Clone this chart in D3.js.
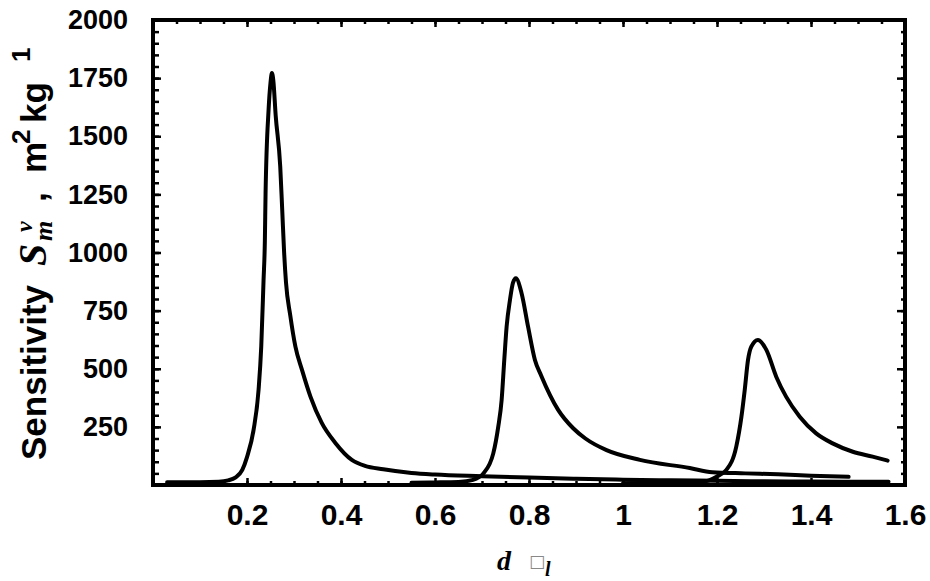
<!DOCTYPE html>
<html>
<head>
<meta charset="utf-8">
<script src="https://cdn.jsdelivr.net/npm/d3@7"></script>
<style>
  html, body { margin: 0; padding: 0; background: #fff; }
  svg { display: block; }
</style>
</head>
<body>
<svg id="chart" width="930" height="581"></svg>
<script>
// ---- data ----
const xTickLabels = [0.2, 0.4, 0.6, 0.8, 1, 1.2, 1.4, 1.6];
const yTickLabels = [250, 500, 750, 1000, 1250, 1500, 1750, 2000];

const peak1X = [0.03, 0.10, 0.14, 0.16, 0.175, 0.19, 0.20, 0.214, 0.2246, 0.2303, 0.2352, 0.238, 0.2395, 0.2459, 0.250, 0.253, 0.256, 0.261, 0.2707, 0.275, 0.279, 0.283, 0.292, 0.303, 0.317, 0.335, 0.359, 0.388, 0.423, 0.451, 0.49, 0.55, 0.60, 0.70, 0.80, 0.90, 1.00, 1.10, 1.20, 1.30, 1.40, 1.50, 1.565];
const peak1Y = [12, 12, 14, 20, 32, 65, 120, 237, 409, 595, 880, 1050, 1255, 1613, 1730, 1772, 1740, 1590, 1370, 1180, 1000, 870, 730, 595, 495, 380, 267, 181, 108, 82, 68, 52, 45, 38, 32, 27, 23, 20, 18, 16, 15, 14, 14];

const peak2X = [0.55, 0.60, 0.65, 0.681, 0.703, 0.724, 0.7346, 0.7418, 0.7474, 0.7524, 0.7595, 0.766, 0.772, 0.7843, 0.798, 0.8126, 0.826, 0.862, 0.894, 0.92, 0.965, 1.036, 1.142, 1.19, 1.26, 1.33, 1.40, 1.48];
const peak2Y = [10, 11, 13, 22, 50, 136, 251, 366, 538, 681, 796, 870, 889, 824, 681, 538, 470, 323, 244, 200, 150, 108, 73, 55, 50, 46, 40, 35];

const peak3X = [1.00, 1.08, 1.13, 1.17, 1.199, 1.22, 1.241, 1.252, 1.259, 1.266, 1.273, 1.287, 1.305, 1.326, 1.347, 1.376, 1.411, 1.446, 1.489, 1.531, 1.563];
const peak3Y = [8, 9, 10, 14, 36, 65, 165, 294, 409, 538, 595, 624, 581, 466, 380, 294, 222, 179, 143, 122, 105];

// ---- layout ----
const svg = d3.select("#chart");
const L = 153, R = 905, T = 20, B = 485;
const x = d3.scaleLinear().domain([0, 1.6]).range([L, R]);
const y = d3.scaleLinear().domain([0, 2000]).range([B, T]);

const sans = "'Liberation Sans', Arial, Helvetica, sans-serif";
const serif = "'Liberation Serif', 'Times New Roman', serif";

// ---- curves ----
const line = d3.line().x(d => x(d[0])).y(d => y(d[1])).curve(d3.curveMonotoneX);
const series = [
  d3.zip(peak1X, peak1Y),
  d3.zip(peak2X, peak2Y),
  d3.zip(peak3X, peak3Y)
];
svg.append("g").selectAll("path").data(series).join("path")
  .attr("d", line)
  .attr("fill", "none")
  .attr("stroke", "#000")
  .attr("stroke-width", 4)
  .attr("stroke-linejoin", "round")
  .attr("stroke-linecap", "round");

// ---- axes (ticks inward on all four sides) ----
const xMinor = d3.range(0, 1.6001, 0.05).map(v => +v.toFixed(2));
const yMinor = d3.range(0, 2000.1, 50);
const xMajor = xTickLabels;
const yMajor = yTickLabels;

function styleAxis(g) {
  g.select(".domain").remove();
  g.selectAll(".tick line").attr("stroke", "#000").attr("stroke-width", 2.5);
}
// bottom
svg.append("g").attr("transform", `translate(0,${B})`)
  .call(d3.axisBottom(x).tickValues(xMinor).tickSize(-4).tickFormat(""))
  .call(styleAxis);
svg.append("g").attr("transform", `translate(0,${B})`)
  .call(d3.axisBottom(x).tickValues(xMajor).tickSize(-7).tickPadding(19)
    .tickFormat(d => String(+d.toFixed(1))))
  .call(styleAxis)
  .call(g => g.selectAll("text")
    .attr("font-family", sans).attr("font-weight", "bold")
    .attr("font-size", 30).attr("fill", "#000"));
// top
svg.append("g").attr("transform", `translate(0,${T})`)
  .call(d3.axisTop(x).tickValues(xMinor).tickSize(-4).tickFormat(""))
  .call(styleAxis);
svg.append("g").attr("transform", `translate(0,${T})`)
  .call(d3.axisTop(x).tickValues(xMajor).tickSize(-7).tickFormat(""))
  .call(styleAxis);
// left
svg.append("g").attr("transform", `translate(${L},0)`)
  .call(d3.axisLeft(y).tickValues(yMinor).tickSize(-6).tickFormat(""))
  .call(styleAxis);
svg.append("g").attr("transform", `translate(${L},0)`)
  .call(d3.axisLeft(y).tickValues(yMajor).tickSize(-8).tickPadding(25).tickFormat(d3.format("d")))
  .call(styleAxis)
  .call(g => g.selectAll("text")
    .attr("font-family", sans).attr("font-weight", "bold")
    .attr("font-size", 27).attr("fill", "#000"));
// right
svg.append("g").attr("transform", `translate(${R},0)`)
  .call(d3.axisRight(y).tickValues(yMinor).tickSize(-4).tickFormat(""))
  .call(styleAxis);
svg.append("g").attr("transform", `translate(${R},0)`)
  .call(d3.axisRight(y).tickValues(yMajor).tickSize(-8).tickFormat(""))
  .call(styleAxis);

// frame
svg.append("rect")
  .attr("x", L).attr("y", T).attr("width", R - L).attr("height", B - T)
  .attr("fill", "none").attr("stroke", "#000").attr("stroke-width", 4);

// ---- y axis title (rotated) ----
const yt = svg.append("text")
  .attr("transform", "translate(46,460) rotate(-90)")
  .attr("fill", "#000");
yt.append("tspan").attr("x", 0).attr("y", 0)
  .attr("font-family", sans).attr("font-weight", "bold").attr("font-size", 35)
  .text("Sensitivity");
yt.append("tspan").attr("x", 194).attr("y", 0)
  .attr("font-family", serif).attr("font-style", "italic").attr("font-weight", "bold").attr("font-size", 40)
  .text("S");
yt.append("tspan").attr("x", 219).attr("y", 6)
  .attr("font-family", serif).attr("font-style", "italic").attr("font-weight", "bold").attr("font-size", 26)
  .text("m");
yt.append("tspan").attr("x", 228).attr("y", -14)
  .attr("font-family", serif).attr("font-style", "italic").attr("font-weight", "bold").attr("font-size", 24)
  .text("v");
yt.append("tspan").attr("x", 258).attr("y", 0)
  .attr("font-family", sans).attr("font-weight", "bold").attr("font-size", 35)
  .text(",");
yt.append("tspan").attr("x", 287).attr("y", 0)
  .attr("font-family", sans).attr("font-weight", "bold").attr("font-size", 35)
  .text("m");
yt.append("tspan").attr("x", 316).attr("y", -16)
  .attr("font-family", sans).attr("font-weight", "bold").attr("font-size", 26)
  .text("2");
yt.append("tspan").attr("x", 337).attr("y", 0)
  .attr("font-family", sans).attr("font-weight", "bold").attr("font-size", 35)
  .text("kg");
yt.append("tspan").attr("x", 398).attr("y", -16)
  .attr("font-family", sans).attr("font-weight", "bold").attr("font-size", 26)
  .text("1");

// ---- x axis title ----
svg.append("text").attr("x", 497).attr("y", 570)
  .attr("font-family", serif).attr("font-style", "italic").attr("font-weight", "bold").attr("font-size", 28)
  .attr("fill", "#000").text("d");
svg.append("text").attr("x", 529).attr("y", 567)
  .attr("font-family", "'DejaVu Sans', sans-serif").attr("font-size", 17).attr("fill", "#888")
  .text("□");
svg.append("text").attr("x", 545).attr("y", 576)
  .attr("font-family", serif).attr("font-style", "italic").attr("font-weight", "bold").attr("font-size", 20)
  .attr("fill", "#000").text("l");
</script>
</body>
</html>
